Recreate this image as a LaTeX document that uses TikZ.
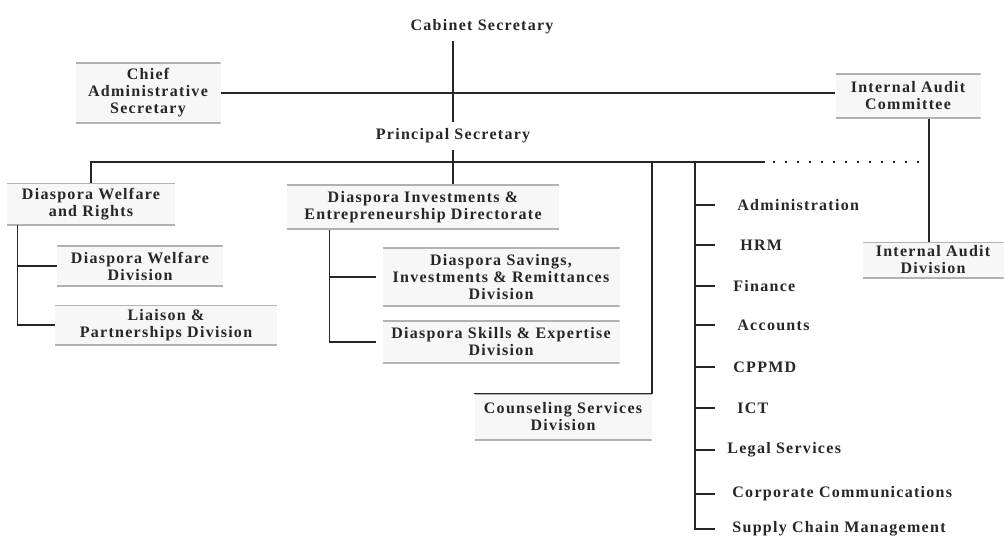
\documentclass[tikz,border=0pt]{standalone}
\usepackage{fontspec}
\setmainfont[LetterSpace=8]{Liberation Serif}

\tikzset{
  orgtext/.style={font=\fontsize{8}{8.5}\selectfont\bfseries, text=black!85, align=center},
  unitbox/.style={orgtext, fill=black!3, inner sep=1pt,
    path picture={\draw[gray!60, line width=1.2pt]
      (path picture bounding box.north west) -- (path picture bounding box.north east)
      (path picture bounding box.south west) -- (path picture bounding box.south east);}},
  svcitem/.style={orgtext, anchor=west, inner xsep=0pt},
  link/.style={line width=0.8pt, black!85},
}

\begin{document}
\begin{tikzpicture}[x=0.5pt, y=-0.5pt]
  \useasboundingbox (0,0) rectangle (1005,535);

  % top of the chart
  \node[orgtext] (cabsec)  at (482,27)  {Cabinet Secretary};
  \node[orgtext] (prinsec) at (453,136) {Principal Secretary};
  \node[unitbox, minimum width=72.5pt, minimum height=30pt] (cas) at (148,93)
    {Chief\\Administrative\\Secretary};
  \node[unitbox, minimum width=72.5pt, minimum height=22.5pt] (iac) at (908,96)
    {Internal Audit\\Committee};

  % directorates and divisions
  \node[unitbox, minimum width=84pt, minimum height=21pt] (welfare) at (91,204)
    {Diaspora Welfare\\and Rights};
  \node[unitbox, minimum width=83pt, minimum height=20.5pt] (wdiv) at (140,266)
    {Diaspora Welfare\\Division};
  \node[unitbox, minimum width=111pt, minimum height=20pt] (liaison) at (166,325)
    {Liaison \&\\Partnerships Division};
  \node[unitbox, minimum width=136pt, minimum height=22.5pt] (invest) at (423,207)
    {Diaspora Investments \&\\Entrepreneurship Directorate};
  \node[unitbox, minimum width=118.5pt, minimum height=29.5pt] (savings) at (501,277)
    {Diaspora Savings,\\Investments \& Remittances\\Division};
  \node[unitbox, minimum width=118.5pt, minimum height=21.5pt] (skills) at (501,342)
    {Diaspora Skills \& Expertise\\Division};
  \node[unitbox, minimum width=88.5pt, minimum height=23pt] (counsel) at (563,417)
    {Counseling Services\\Division};
  \node[unitbox, minimum width=70.5pt, minimum height=18pt] (iad) at (933,260)
    {Internal Audit\\Division};

  % support services
  \node[svcitem] (admin)   at (737,205) {Administration};
  \node[svcitem] (hrm)     at (740,245) {HRM};
  \node[svcitem] (finance) at (733,286) {Finance};
  \node[svcitem] (accts)   at (737,325) {Accounts};
  \node[svcitem] (cppmd)   at (733,367) {CPPMD};
  \node[svcitem] (ict)     at (737,408) {ICT};
  \node[svcitem] (legal)   at (727,450) {Legal Services};
  \node[svcitem] (corpcom) at (732,494) {Corporate Communications};
  \node[svcitem] (supply)  at (732,529) {Supply Chain Management};

  \coordinate (busR)    at (765,162);
  \coordinate (svcbus)  at (695,162);
  \coordinate (tickend) at (715,162);
  \coordinate (iaV)     at (929,162);
  \coordinate (wV) at ([xshift=5.5pt]welfare.south west);
  \coordinate (iV) at ([xshift=21.5pt]invest.south west);

  % connectors
  \draw[link] (prinsec.north |- cabsec.south) -- (prinsec.north);
  \draw[link] (cas.east) -- (cas.east -| iac.west);
  \draw[link] (welfare.north) |- (busR);
  \draw[link] (prinsec.south) -- (prinsec.south |- invest.north);
  \draw[link, dash pattern=on 1pt off 5pt] ([xshift=4pt]busR) -- (iaV);
  \draw[link] (iac.south -| iaV) -- (iad.north -| iaV);
  \draw[link] (counsel.north west) -| (counsel.north east |- busR);

  \draw[link] (wV) |- (liaison.west);
  \draw[link] (wV |- wdiv.west) -- (wdiv.west);
  \draw[link] (iV) |- ([xshift=-3pt]skills.west);
  \draw[link] (iV |- savings.west) -- ([xshift=-3pt]savings.west);

  \draw[link] (svcbus) |- (tickend |- supply.west);
  \draw[link] (svcbus |- admin.west)   -- (tickend |- admin.west);
  \draw[link] (svcbus |- hrm.west)     -- (tickend |- hrm.west);
  \draw[link] (svcbus |- finance.west) -- (tickend |- finance.west);
  \draw[link] (svcbus |- accts.west)   -- (tickend |- accts.west);
  \draw[link] (svcbus |- cppmd.west)   -- (tickend |- cppmd.west);
  \draw[link] (svcbus |- ict.west)     -- (tickend |- ict.west);
  \draw[link] (svcbus |- legal.west)   -- (tickend |- legal.west);
  \draw[link] (svcbus |- corpcom.west) -- (tickend |- corpcom.west);
\end{tikzpicture}
\end{document}
